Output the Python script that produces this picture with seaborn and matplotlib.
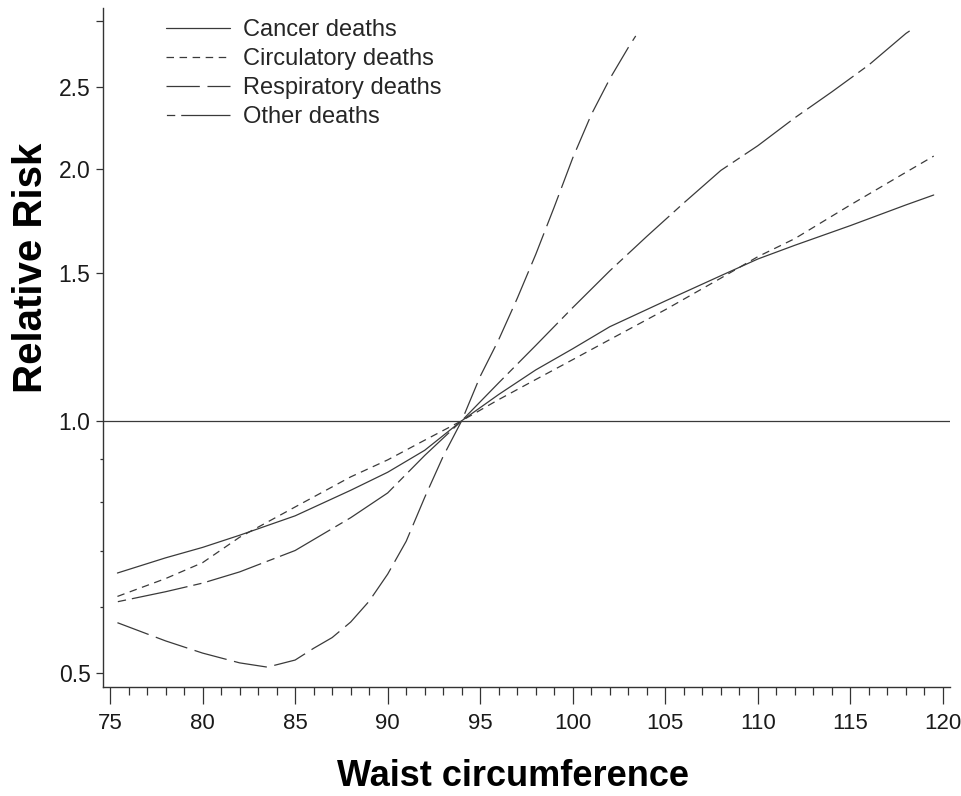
import matplotlib
matplotlib.use("Agg")
import matplotlib.pyplot as plt
import pandas as pd
import seaborn as sns
from matplotlib.ticker import FixedLocator, FixedFormatter, NullFormatter

# Relative risk by waist circumference (cm), reference at 94 cm
cancer_waist = [75.4, 78, 80, 82, 85, 88, 90, 92, 94, 96, 98, 100, 102, 105, 108, 110, 112, 115, 118, 119.5]
cancer_rr = [0.658, 0.686, 0.706, 0.730, 0.770, 0.826, 0.868, 0.922, 1.0, 1.075, 1.150, 1.219, 1.295, 1.39, 1.49, 1.56, 1.62, 1.71, 1.81, 1.86]

circ_waist = [75.4, 78, 80, 82, 85, 88, 90, 92, 94, 96, 98, 100, 102, 105, 108, 110, 112, 115, 118, 119.5]
circ_rr = [0.617, 0.648, 0.677, 0.726, 0.789, 0.857, 0.898, 0.948, 1.0, 1.06, 1.12, 1.183, 1.25, 1.357, 1.48, 1.57, 1.65, 1.81, 1.98, 2.07]

resp_waist = [75.4, 78, 80, 82, 83.5, 85, 86, 87, 88, 89, 90, 91, 92, 93, 94, 95, 96, 97, 98, 99, 100, 101, 102, 103, 103.4]
resp_rr = [0.574, 0.546, 0.528, 0.514, 0.508, 0.518, 0.535, 0.551, 0.575, 0.609, 0.656, 0.718, 0.81, 0.907, 1.0, 1.13, 1.25, 1.40, 1.58, 1.80, 2.06, 2.32, 2.56, 2.79, 2.88]

other_waist = [75.4, 78, 80, 82, 85, 88, 90, 92, 94, 96, 98, 100, 102, 104, 106, 108, 110, 112, 114, 116, 118, 118.2]
other_rr = [0.608, 0.625, 0.640, 0.660, 0.700, 0.766, 0.820, 0.909, 1.0, 1.11, 1.23, 1.365, 1.51, 1.66, 1.82, 1.99, 2.13, 2.30, 2.47, 2.66, 2.90, 2.92]

causes = ["Cancer deaths", "Circulatory deaths", "Respiratory deaths", "Other deaths"]
series = [(cancer_waist, cancer_rr), (circ_waist, circ_rr), (resp_waist, resp_rr), (other_waist, other_rr)]

y_ticks = [0.5, 1.0, 1.5, 2.0, 2.5, 3.0]
y_tick_labels = ["0.5", "1.0", "1.5", "2.0", "2.5", ""]
y_minor_ticks = [0.6, 0.7, 0.8, 0.9]
x_ticks = list(range(75, 121, 5))
x_minor_ticks = list(range(75, 121, 1))

sns.set_style("ticks")
plt.rcParams["font.family"] = ["Liberation Sans", "DejaVu Sans"]
plt.rcParams["lines.scale_dashes"] = False

line_color = "#3a3a3a"
dash_styles = {
    "Cancer deaths": "-",
    "Circulatory deaths": (0, (5.4, 4.0)),
    "Respiratory deaths": (0, (24.0, 5.5)),
    "Other deaths": (45.0, (41.0, 4.3, 6.0, 4.3)),
}

df = pd.concat(
    [pd.DataFrame({"waist": xs, "rr": ys, "cause": name}) for name, (xs, ys) in zip(causes, series)],
    ignore_index=True,
)

fig = plt.figure(figsize=(9.62, 7.96), dpi=100)
ax = fig.add_axes([103 / 962, 1 - 687 / 796, (950 - 103) / 962, (687 - 8) / 796])

ax.axhline(1.0, color=line_color, lw=0.9, zorder=1)

for name in causes:
    sub = df[df["cause"] == name]
    sns.lineplot(data=sub, x="waist", y="rr", ax=ax, color=line_color, lw=0.9,
                 linestyle=dash_styles[name], estimator=None, label=name)

ax.set_yscale("log")
ax.set_xlim(74.62, 120.38)
ax.set_ylim(0.481, 3.11)

ax.yaxis.set_major_locator(FixedLocator(y_ticks))
ax.yaxis.set_major_formatter(FixedFormatter(y_tick_labels))
ax.yaxis.set_minor_locator(FixedLocator(y_minor_ticks))
ax.yaxis.set_minor_formatter(NullFormatter())
ax.xaxis.set_major_locator(FixedLocator(x_ticks))
ax.xaxis.set_minor_locator(FixedLocator(x_minor_ticks))

sns.despine(ax=ax)
for side in ("left", "bottom"):
    ax.spines[side].set_color("#333333")
    ax.spines[side].set_linewidth(1.0)

ax.tick_params(axis="y", which="major", length=5, width=0.9, color="#333333",
               labelsize=16.5, labelcolor="#1a1a1a", pad=4)
ax.tick_params(axis="y", which="minor", length=2.5, width=0.9, color="#333333")
ax.tick_params(axis="x", which="major", length=12, width=0.9, color="#333333",
               labelsize=16, labelcolor="#1a1a1a", pad=7)
ax.tick_params(axis="x", which="minor", length=6, width=0.9, color="#333333")

ax.set_xlabel("Waist circumference", fontsize=26, fontweight="bold", color="black")
ax.set_ylabel("Relative Risk", fontsize=29, fontweight="bold", color="black")
ax.xaxis.set_label_coords((513 - 103) / 847, (687 - 759) / 679)
ax.yaxis.set_label_coords((50 - 103) / 847, (687 - 268) / 679)

ax.legend(loc="upper left", bbox_to_anchor=(166 / 962, 1 - 19 / 796),
          bbox_transform=fig.transFigure, frameon=False, fontsize=17,
          handlelength=2.7, handletextpad=0.55, labelspacing=0.3,
          borderpad=0, borderaxespad=0)

fig.savefig("out.png", dpi=100, facecolor="white")
